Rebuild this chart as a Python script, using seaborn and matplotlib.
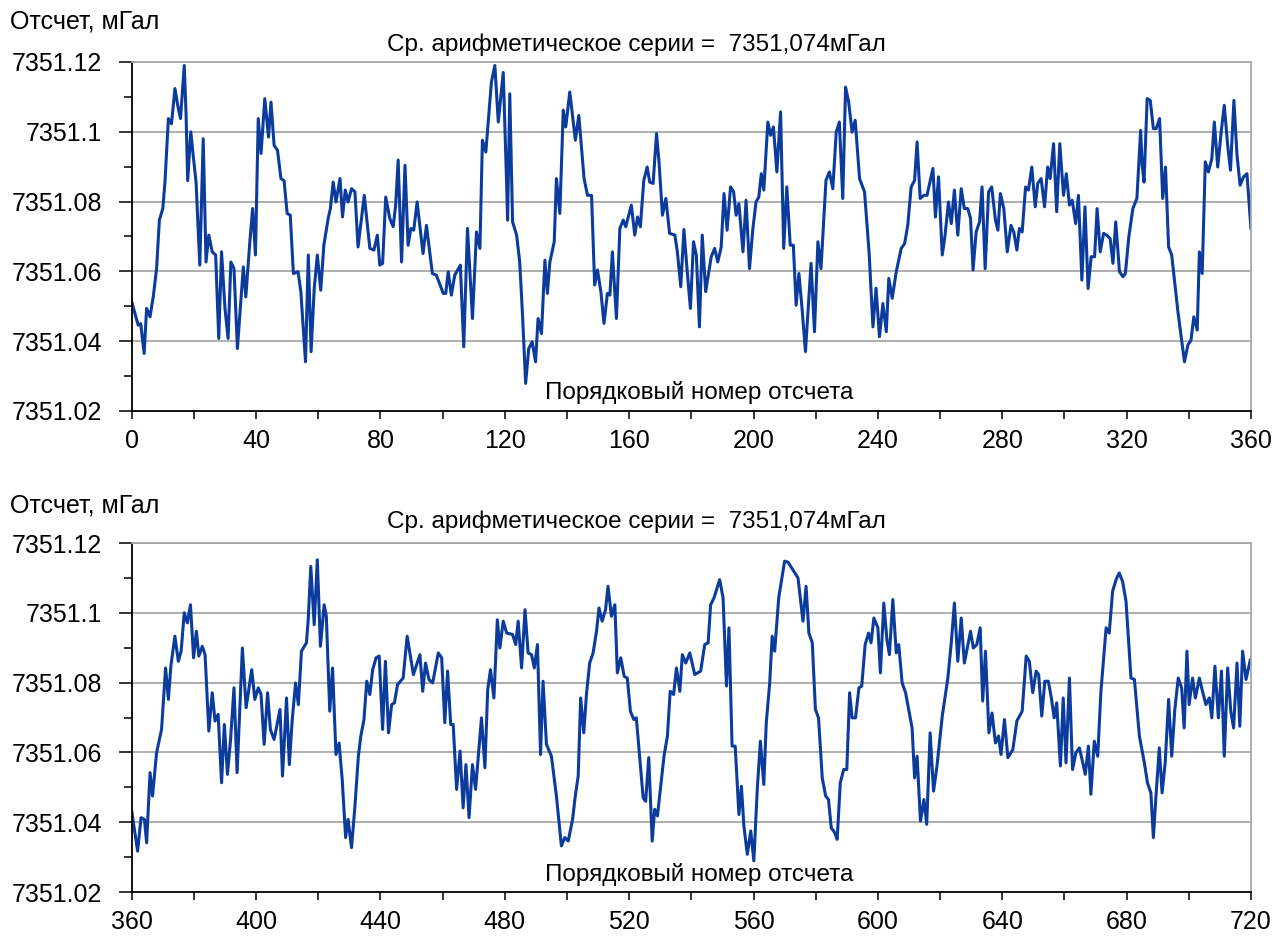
import numpy as np
import pandas as pd
import matplotlib
matplotlib.use("Agg")
import matplotlib.pyplot as plt
import seaborn as sns
from matplotlib.ticker import MultipleLocator, FixedLocator

# ---------------- data ----------------
# readings are given in µGal above BASE_MGAL
BASE_MGAL = 7351.0

top_x = [0, 2.1, 2.9, 4.0, 4.8, 5.9, 7.0, 8.0, 8.9, 10.0, 10.7, 11.8, 12.8, 13.9, 14.8, 15.7, 16.9, 17.5, 18.0, 19.0,
         19.8, 20.7, 21.9, 23.0, 23.9, 24.8, 25.9, 27.0, 28.0, 28.9, 30.0, 31.0, 31.9, 32.9, 34.0, 35.9, 36.7, 38.0, 38.9, 39.8,
         40.7, 41.6, 42.8, 44.0, 44.8, 45.8, 46.9, 48.0, 49.0, 50.0, 51.0, 52.0, 53.5, 54.4, 55.9, 56.8, 57.7, 58.7, 59.7, 60.8,
         61.8, 63.2, 63.9, 64.8, 65.7, 67.0, 67.8, 68.7, 69.6, 70.7, 71.8, 72.8, 74.8, 76.6, 77.9, 79.0, 79.8, 80.7, 81.7, 83.0,
         84.1, 84.9, 85.7, 86.8, 87.9, 88.9, 89.8, 90.7, 91.8, 93.7, 94.8, 96.7, 98.0, 100.2, 101.0, 101.8, 102.8, 103.9, 105.7, 106.8,
         108.0, 109.6, 110.9, 112.0, 112.8, 113.9, 115.7, 116.8, 117.9, 119.5, 120.5, 120.9, 121.6, 122.5, 123.8, 124.8, 125.7, 126.7, 127.7, 128.8,
         129.9, 130.7, 131.8, 132.9, 133.7, 134.5, 135.9, 136.6, 137.7, 138.8, 139.6, 140.9, 142.7, 143.8, 145.5, 146.6, 147.9, 148.9, 149.8, 150.9,
         151.9, 153.0, 153.8, 154.6, 155.9, 157.0, 158.1, 158.9, 160.7, 161.8, 162.7, 163.6, 164.7, 165.8, 166.6, 167.7, 168.8, 169.6, 170.7, 171.8,
         173.0, 174.7, 175.5, 176.6, 177.6, 178.6, 179.7, 180.7, 181.6, 182.6, 183.5, 184.6, 186.4, 187.5, 188.5, 189.6, 190.5, 191.5, 192.6, 193.6,
         194.4, 195.3, 196.6, 197.6, 198.7, 199.8, 200.8, 201.7, 202.5, 203.3, 204.6, 205.5, 206.4, 207.5, 208.7, 209.7, 210.7, 211.8, 212.8, 213.7,
         214.6, 215.6, 216.7, 217.8, 218.5, 219.6, 220.7, 221.7, 223.3, 224.4, 225.5, 226.6, 227.6, 228.7, 229.6, 230.6, 231.7, 232.7, 234.1, 235.7,
         237.2, 238.4, 239.4, 240.5, 241.6, 242.7, 243.5, 244.6, 245.9, 247.5, 248.6, 249.6, 250.7, 251.8, 252.6, 253.6, 254.8, 255.8, 257.7, 258.5,
         259.5, 260.7, 261.6, 262.7, 263.6, 264.6, 265.7, 266.8, 267.8, 268.9, 269.8, 270.6, 271.6, 272.7, 273.5, 274.5, 275.6, 276.6, 277.8, 278.6,
         279.4, 280.5, 281.6, 282.8, 283.7, 284.7, 285.5, 286.4, 287.5, 288.4, 289.5, 290.6, 291.4, 292.5, 293.6, 294.6, 295.4, 296.5, 297.5, 298.5,
         299.7, 300.6, 301.6, 302.5, 303.6, 304.5, 305.6, 306.6, 307.6, 308.6, 309.7, 310.5, 311.5, 312.6, 313.6, 314.7, 315.6, 316.5, 317.7, 318.8,
         319.6, 320.7, 322.0, 323.3, 323.9, 324.5, 325.0, 325.6, 326.6, 327.6, 328.6, 329.5, 330.6, 331.6, 332.5, 333.5, 334.5, 336.5, 338.6, 339.7,
         340.7, 341.6, 342.7, 343.4, 344.3, 345.3, 346.3, 347.4, 348.2, 349.3, 350.4, 351.4, 352.5, 353.4, 354.5, 355.5, 356.5, 357.6, 358.7, 360.0]
top_ugal = [51.3, 44.6, 45.0, 36.5, 49.4, 47.0, 53.2, 60.8, 74.7, 78.0, 85.6, 103.8, 102.3, 112.4, 107.6, 103.8, 119.0, 104.7, 86.0, 100.0,
            93.0, 85.6, 61.8, 98.0, 62.7, 70.4, 65.6, 64.7, 40.8, 65.6, 49.4, 40.8, 62.7, 60.8, 37.9, 61.3, 52.7, 68.5, 78.0, 64.7,
            103.8, 93.8, 109.5, 98.5, 108.5, 96.1, 94.7, 86.6, 86.0, 76.6, 76.1, 59.4, 59.9, 54.2, 34.1, 64.7, 37.0, 55.0, 64.7, 54.6,
            67.5, 75.2, 78.0, 85.6, 79.9, 86.6, 75.6, 83.3, 79.9, 83.7, 82.8, 67.0, 81.8, 66.6, 66.1, 70.4, 61.8, 62.3, 81.3, 75.2,
            72.8, 79.0, 91.9, 62.7, 90.4, 67.5, 72.3, 71.8, 79.9, 65.1, 73.2, 59.4, 58.9, 53.7, 53.7, 59.9, 53.2, 58.9, 61.8, 38.4,
            72.3, 46.5, 71.3, 66.6, 97.6, 94.2, 114.3, 119.0, 102.8, 117.0, 87.6, 74.7, 110.9, 74.2, 70.4, 62.7, 47.5, 27.9, 37.9, 39.8,
            34.1, 46.5, 42.2, 63.2, 53.7, 62.7, 68.5, 86.6, 76.6, 106.2, 101.4, 111.4, 97.6, 104.7, 86.6, 81.8, 81.8, 56.1, 60.4, 54.2,
            45.1, 53.7, 53.2, 65.6, 46.5, 72.3, 74.7, 72.8, 79.0, 70.4, 75.6, 72.8, 86.1, 89.9, 85.6, 85.2, 99.5, 91.4, 76.1, 80.9,
            70.9, 70.4, 65.6, 55.6, 72.0, 60.8, 49.4, 68.5, 64.7, 44.1, 70.4, 54.2, 64.2, 66.6, 62.7, 67.0, 82.3, 71.8, 84.2, 82.8,
            76.1, 79.4, 65.6, 80.4, 60.8, 72.3, 79.9, 81.3, 88.0, 83.3, 102.8, 99.0, 101.4, 88.5, 105.7, 66.6, 84.2, 67.5, 67.5, 50.3,
            59.4, 49.4, 37.0, 52.3, 62.3, 42.7, 68.5, 60.8, 86.1, 88.5, 83.7, 99.9, 102.8, 80.9, 112.8, 108.5, 99.9, 103.3, 86.6, 82.8,
            65.0, 44.1, 55.2, 41.3, 50.8, 42.7, 58.0, 52.3, 59.9, 66.6, 68.0, 73.2, 84.2, 86.1, 97.1, 80.9, 81.8, 81.8, 89.5, 75.6,
            87.1, 64.7, 70.4, 79.9, 73.7, 83.3, 70.4, 83.7, 78.0, 78.0, 75.2, 60.4, 71.3, 74.2, 84.2, 60.8, 82.8, 84.2, 74.7, 71.8,
            82.3, 78.0, 65.6, 73.2, 71.3, 66.1, 72.3, 71.3, 84.2, 83.3, 89.9, 78.5, 85.2, 86.6, 78.5, 89.9, 86.6, 96.6, 77.1, 96.6,
            81.8, 88.0, 79.0, 80.4, 73.7, 81.8, 57.5, 78.5, 55.1, 64.2, 64.2, 78.0, 65.6, 70.9, 70.4, 69.4, 62.3, 74.2, 59.9, 58.5,
            59.4, 69.9, 78.0, 80.9, 90.4, 100.4, 90.4, 85.6, 109.5, 109.0, 100.9, 100.9, 103.8, 80.9, 89.9, 67.0, 64.7, 48.4, 34.1, 38.9,
            40.3, 47.0, 43.2, 65.6, 59.4, 91.4, 88.5, 92.3, 102.8, 89.9, 99.9, 107.6, 96.1, 89.0, 109.0, 93.3, 84.7, 87.1, 88.0, 72.0]

bot_x = [360.0, 361.9, 363.0, 364.1, 364.8, 365.9, 366.7, 368.0, 369.6, 370.9, 371.8, 372.6, 373.9, 375.0, 375.9, 376.9, 377.9, 378.9, 379.9, 380.8,
         381.6, 382.7, 383.6, 384.8, 385.9, 386.8, 387.8, 388.9, 389.8, 390.8, 391.8, 392.9, 393.9, 395.6, 396.8, 398.6, 399.6, 400.7, 401.6, 402.6,
         403.7, 404.6, 405.8, 407.7, 408.5, 409.8, 410.7, 411.6, 412.7, 413.6, 414.6, 416.2, 416.8, 417.6, 418.7, 419.7, 420.7, 421.9, 422.6, 423.7,
         424.6, 425.7, 426.7, 427.7, 428.8, 429.6, 430.7, 431.8, 432.9, 433.7, 434.7, 435.6, 436.6, 437.5, 438.6, 439.6, 440.7, 441.6, 442.6, 443.6,
         444.5, 445.5, 447.3, 448.6, 450.6, 452.7, 453.6, 454.5, 455.6, 456.8, 458.6, 459.7, 460.7, 461.6, 462.6, 463.4, 464.5, 465.6, 466.6, 467.5,
         468.5, 469.6, 470.6, 472.5, 473.6, 474.5, 475.4, 476.5, 477.6, 478.4, 479.5, 480.6, 482.5, 483.5, 484.3, 485.4, 486.5, 487.5, 488.6, 489.5,
         490.5, 491.5, 492.3, 493.4, 495.0, 496.6, 498.2, 499.3, 500.4, 501.8, 502.6, 503.6, 504.4, 505.4, 506.3, 507.3, 508.4, 509.5, 510.3, 511.3,
         512.4, 513.2, 514.3, 515.4, 516.2, 517.3, 518.4, 519.4, 520.4, 521.5, 522.3, 523.4, 524.5, 525.3, 526.3, 527.4, 528.2, 529.1, 531.2, 532.3,
         533.2, 534.3, 535.2, 536.3, 537.1, 538.2, 539.5, 541.1, 543.0, 544.3, 545.4, 546.2, 547.3, 549.1, 550.2, 551.3, 552.1, 553.1, 554.1, 555.3,
         556.1, 556.9, 558.0, 559.1, 560.1, 561.2, 562.2, 563.3, 564.1, 565.2, 566.0, 566.8, 568.1, 570.0, 571.1, 574.3, 575.9, 576.9, 577.8, 578.9,
         579.9, 580.9, 582.1, 583.2, 584.1, 585.0, 586.1, 586.9, 587.9, 589.0, 590.0, 590.9, 591.7, 592.8, 593.9, 594.8, 595.9, 597.0, 597.8, 598.7,
         600.0, 600.8, 601.9, 602.9, 603.7, 604.8, 605.9, 606.7, 607.8, 608.9, 611.0, 611.8, 612.6, 613.7, 614.8, 615.7, 616.8, 617.9, 619.0, 620.7,
         622.5, 623.6, 624.6, 625.7, 626.8, 627.8, 629.8, 630.7, 631.8, 632.9, 633.7, 634.6, 635.7, 636.7, 637.8, 638.8, 639.6, 640.7, 641.8, 643.4,
         644.7, 646.4, 647.7, 648.7, 649.8, 650.9, 651.7, 652.7, 653.7, 654.8, 655.7, 656.7, 657.5, 658.7, 659.6, 660.5, 661.6, 662.6, 663.7, 664.8,
         665.9, 666.7, 667.7, 668.5, 669.6, 670.7, 671.7, 673.4, 674.4, 675.5, 676.6, 677.6, 678.7, 679.8, 681.4, 682.5, 684.1, 685.7, 686.7, 687.8,
         688.6, 689.4, 690.5, 691.4, 692.4, 693.5, 694.5, 695.5, 696.6, 697.7, 698.5, 699.4, 700.1, 701.2, 702.1, 703.4, 704.4, 705.5, 706.6, 707.4,
         708.4, 709.5, 710.5, 711.4, 712.5, 713.5, 714.4, 715.5, 716.4, 717.3, 718.4, 719.8]
bot_ugal = [43.2, 31.7, 41.3, 40.8, 34.1, 54.2, 47.5, 59.9, 66.6, 84.2, 75.2, 84.7, 93.3, 86.1, 89.0, 100.0, 97.1, 102.3, 87.1, 94.7,
            87.6, 90.4, 88.0, 66.1, 77.1, 69.0, 70.9, 51.3, 68.0, 53.7, 63.7, 78.5, 54.2, 89.9, 72.8, 83.7, 75.2, 78.5, 76.6, 62.3,
            77.1, 66.6, 63.7, 72.3, 53.2, 75.6, 56.5, 69.0, 79.9, 73.7, 89.0, 91.4, 98.5, 113.3, 96.6, 115.2, 90.4, 102.3, 99.0, 71.8,
            84.2, 59.4, 62.7, 52.3, 35.6, 40.8, 32.7, 44.6, 58.9, 64.7, 69.4, 80.4, 76.6, 83.7, 87.1, 87.6, 66.6, 86.1, 65.6, 73.7,
            74.2, 79.4, 81.3, 93.3, 82.3, 88.0, 77.5, 85.6, 80.9, 79.9, 88.5, 87.1, 68.5, 83.3, 68.0, 68.0, 49.4, 60.4, 44.1, 56.5,
            41.3, 56.5, 49.4, 69.9, 55.6, 78.0, 83.7, 75.6, 98.0, 89.9, 97.6, 94.2, 93.8, 90.9, 97.6, 84.2, 100.9, 88.5, 88.0, 84.2,
            90.9, 59.4, 80.4, 62.3, 58.9, 47.5, 33.2, 35.6, 34.6, 40.8, 47.0, 53.2, 75.6, 65.6, 77.1, 85.6, 88.5, 94.7, 101.4, 97.6,
            100.9, 107.6, 99.0, 102.3, 82.8, 87.1, 81.8, 81.3, 71.8, 69.4, 69.9, 58.5, 47.0, 46.0, 58.5, 34.6, 43.7, 41.8, 58.9, 64.7,
            77.5, 76.6, 84.2, 77.5, 88.0, 85.6, 88.5, 82.3, 83.3, 90.9, 91.4, 102.3, 104.3, 109.5, 104.3, 79.0, 95.7, 61.8, 61.8, 42.2,
            50.3, 38.9, 30.8, 37.5, 28.9, 49.4, 63.2, 50.8, 68.5, 79.9, 93.3, 89.0, 104.3, 114.8, 114.5, 110.0, 97.6, 107.6, 94.2, 91.4,
            72.3, 69.9, 52.7, 47.5, 46.5, 38.4, 37.0, 35.1, 51.3, 55.1, 55.1, 77.1, 69.9, 69.9, 78.5, 79.0, 90.9, 94.2, 91.4, 98.5,
            95.7, 82.8, 102.8, 92.3, 88.0, 103.8, 88.5, 90.9, 79.9, 77.1, 67.0, 52.7, 58.9, 40.3, 46.5, 39.4, 65.6, 48.9, 56.1, 70.4,
            81.3, 91.4, 102.8, 86.1, 98.5, 85.6, 94.7, 89.9, 90.9, 95.7, 74.7, 89.0, 65.6, 71.3, 62.7, 64.7, 59.4, 69.4, 58.5, 60.8,
            69.0, 71.8, 87.6, 86.1, 77.1, 83.3, 82.3, 70.4, 80.4, 80.4, 76.1, 69.9, 74.2, 56.1, 75.6, 57.0, 81.3, 55.1, 59.9, 61.3,
            57.0, 53.7, 61.8, 48.0, 63.2, 58.9, 77.1, 95.7, 94.2, 106.2, 109.5, 111.4, 109.0, 103.3, 81.3, 80.9, 64.7, 57.0, 51.3, 48.4,
            35.6, 47.0, 61.3, 48.4, 57.0, 75.2, 58.9, 72.3, 81.3, 78.5, 67.0, 89.0, 73.7, 81.3, 75.6, 81.3, 77.5, 73.7, 75.6, 69.9,
            84.7, 69.9, 83.3, 58.9, 84.2, 71.8, 67.0, 85.6, 67.5, 89.0, 80.9, 86.6]

y_ticks = [7351.02, 7351.04, 7351.06, 7351.08, 7351.10, 7351.12]
y_tick_labels = ["7351.02", "7351.04", "7351.06", "7351.08", "7351.1", "7351.12"]
top_x_ticks = [0, 40, 80, 120, 160, 200, 240, 280, 320, 360]
bot_x_ticks = [360, 400, 440, 480, 520, 560, 600, 640, 680, 720]

y_label = "Отсчет, мГал"
mean_title = "Ср. арифметическое серии =  7351,074мГал"
x_label = "Порядковый номер отсчета"

# ---------------- style ----------------
sns.set_style("ticks")
plt.rcParams["font.family"] = ["Liberation Sans", "DejaVu Sans"]
plt.rcParams["text.color"] = "black"
plt.rcParams["xtick.color"] = "black"
plt.rcParams["ytick.color"] = "black"

LINE_COLOR = "#0b3b9c"
GRID_COLOR = "#a8a8a8"
FS = 18
FS_T = 17.5

W, H = 1273, 947
fig = plt.figure(figsize=(W / 100, H / 100), dpi=100)

def px_rect(left, top, right, bottom):
    return [left / W, 1 - bottom / H, (right - left) / W, (bottom - top) / H]

panels = [
    dict(x=top_x, y=top_ugal, xlim=(0, 360), xt=top_x_ticks, rect=px_rect(131.7, 62, 1251, 411),
         ylab_y=21, title_y=45, xlab_y=393),
    dict(x=bot_x, y=bot_ugal, xlim=(360, 720), xt=bot_x_ticks, rect=px_rect(131.7, 543, 1251, 892),
         ylab_y=505, title_y=522, xlab_y=875),
]

for p in panels:
    ax = fig.add_axes(p["rect"])
    df = pd.DataFrame({"n": p["x"], "g": BASE_MGAL + np.asarray(p["y"]) / 1000.0})
    sns.lineplot(data=df, x="n", y="g", ax=ax, color=LINE_COLOR, linewidth=2.2,
                 estimator=None, sort=False)
    ax.set_xlim(*p["xlim"])
    ax.set_ylim(7351.02, 7351.12)
    ax.set_xlabel("")
    ax.set_ylabel("")
    ax.yaxis.set_major_locator(FixedLocator(y_ticks))
    ax.set_yticklabels(y_tick_labels)
    ax.yaxis.set_minor_locator(MultipleLocator(0.01))
    ax.xaxis.set_major_locator(FixedLocator(p["xt"]))
    ax.set_xticklabels([str(t) for t in p["xt"]])
    ax.xaxis.set_minor_locator(MultipleLocator(20))
    ax.tick_params(axis="y", which="major", length=9.5, width=1.1, pad=12, labelsize=FS, color="black")
    ax.tick_params(axis="y", which="minor", length=6, width=1.1, color="black")
    ax.tick_params(axis="x", which="both", length=6, width=1.1, pad=7, labelsize=FS, color="black")
    for yv in y_ticks[1:]:
        ax.axhline(yv, color=GRID_COLOR, linewidth=1.3, zorder=0)
    for s in ("left", "bottom"):
        ax.spines[s].set_color("black")
        ax.spines[s].set_linewidth(1.3)
    for s in ("right", "top"):
        ax.spines[s].set_color(GRID_COLOR)
        ax.spines[s].set_linewidth(1.3)
    fig.text(10 / W, 1 - p["ylab_y"] / H, y_label, ha="left", va="center", fontsize=FS)
    fig.text(636 / W, 1 - p["title_y"] / H, mean_title, ha="center", va="center", fontsize=FS_T)
    fig.text(699 / W, 1 - p["xlab_y"] / H, x_label, ha="center", va="center", fontsize=FS_T)

fig.savefig("out.png", dpi=100, facecolor="white")
